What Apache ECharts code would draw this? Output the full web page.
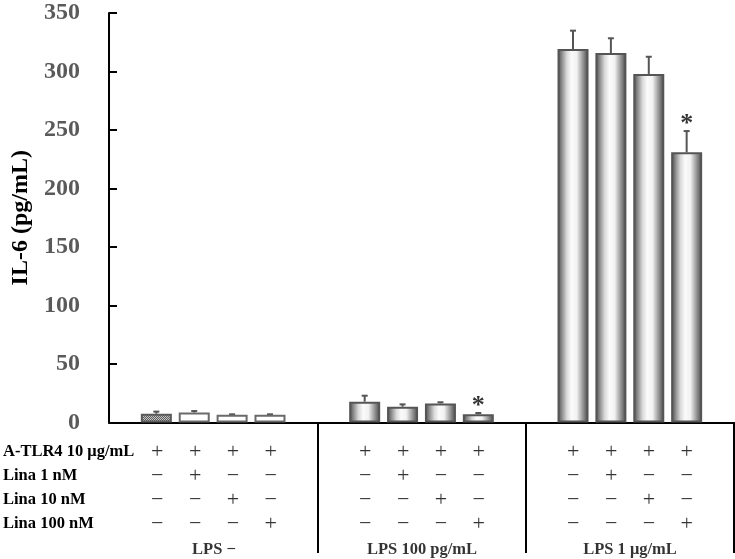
<!DOCTYPE html>
<html><head><meta charset="utf-8">
<script src="https://cdn.jsdelivr.net/npm/echarts@6/dist/echarts.min.js"></script>
<style>html,body{margin:0;padding:0;background:#fff}#c{width:735px;height:559px}</style>
</head><body><div id="c"></div>
<script>
// ---- data ----
const groupLabels = ['LPS \u2212', 'LPS 100 pg/mL', 'LPS 1 \u03bcg/mL'];
const rowLabels = ['A-TLR4 10 \u03bcg/mL', 'Lina 1 nM', 'Lina 10 nM', 'Lina 100 nM'];
const aTLR4   = [1,1,1,1, 1,1,1,1, 1,1,1,1];
const lina1   = [0,1,0,0, 0,1,0,0, 0,1,0,0];
const lina10  = [0,0,1,0, 0,0,1,0, 0,0,1,0];
const lina100 = [0,0,0,1, 0,0,0,1, 0,0,0,1];
const il6Mean = [7.5, 8.5, 6.6, 6.6, 17.8, 13.5, 16.3, 7.0, 319.2, 315.8, 297.9, 230.9];
const il6Err  = [1.8, 1.3, 0.4, 0.4, 5.1, 2.0, 1.0, 1.1, 15.7, 12.6, 14.7, 18.2];
const starred = [0,0,0,0, 0,0,0,1, 0,0,0,1];
const yMin = 0, yMax = 350, yStep = 50;
const yTitle = 'IL-6 (pg/mL)';

// ---- layout helpers (category slots) ----
const slotCount = 33;
const slotOf = k => 2 + 11 * Math.floor(k / 4) + 2 * (k % 4);
const groupSlot = g => 5 + 11 * g;
const slots = Array.from({length: slotCount}, (_, i) => 's' + i);
const serif = "'Liberation Serif','Times New Roman',serif";

// pattern for first bar
const pc = document.createElement('canvas');
pc.width = 2; pc.height = 2;
const px = pc.getContext('2d');
px.fillStyle = '#c4c4c4'; px.fillRect(0,0,2,2);
px.fillStyle = '#5e5e5e'; px.fillRect(0,0,1,1); px.fillRect(1,1,1,1);

const grad = {type:'linear', x:0, y:0, x2:1, y2:0, colorStops:[
  {offset:0, color:'#444'}, {offset:0.1, color:'#787878'}, {offset:0.3, color:'#d9d9d9'},
  {offset:0.45, color:'#fbfbfb'}, {offset:0.62, color:'#f2f2f2'}, {offset:0.85, color:'#888'},
  {offset:1, color:'#444'}]};

const barData = Array(slotCount).fill('-');
il6Mean.forEach((v, k) => {
  let style;
  if (k === 0) style = {color:{image:pc, repeat:'repeat'}, borderColor:'#5a5a5a', borderWidth:2};
  else if (k < 4) style = {color:'#fff', borderColor:'#6a6a6a', borderWidth:2};
  else style = {color:grad, borderColor:'#555', borderWidth:2};
  barData[slotOf(k)] = {value: v, itemStyle: style};
});
const errData = il6Mean.map((v, k) => [slotOf(k), v, v + il6Err[k]]);
const starData = il6Mean.map((v, k) => [slotOf(k), v + il6Err[k]]).filter((_, k) => starred[k]);

const signRows = [aTLR4, lina1, lina10, lina100];
const signData = [];
signRows.forEach((row, r) => row.forEach((on, k) => signData.push({value:[slotOf(k), r], sign: on ? '+' : '\u2212'})));
const groupData = groupLabels.map((t, g) => ({value:[groupSlot(g), 4], text: t}));

const chart = echarts.init(document.getElementById('c'), null, {renderer:'canvas'});
chart.setOption({
  animation: false,
  backgroundColor: '#fff',
  grid: [
    {left:109, top:13, width:625, height:409.5},
    {left:109, top:422, width:625, height:131}
  ],
  xAxis: [
    {type:'category', gridIndex:0, data:slots, boundaryGap:true,
     axisLine:{lineStyle:{color:'#000', width:2}}, axisTick:{show:false}, axisLabel:{show:false}},
    {type:'category', gridIndex:1, data:slots, boundaryGap:true,
     axisLine:{show:false}, axisTick:{show:false}, axisLabel:{show:false},
     splitLine:{show:true, interval:(i) => i === 11 || i === 22, lineStyle:{color:'#000', width:2}}}
  ],
  yAxis: [
    {type:'value', gridIndex:0, min:yMin, max:yMax, interval:yStep,
     name: yTitle, nameLocation:'middle', nameGap:76,
     nameTextStyle:{fontFamily:serif, fontWeight:'bold', fontSize:24, color:'#000'},
     axisLine:{show:true, lineStyle:{color:'#000', width:2}},
     axisTick:{show:true, inside:true, length:8, lineStyle:{color:'#000', width:2}},
     axisLabel:{margin:29, fontFamily:serif, fontWeight:'bold', fontSize:24, color:'#5a5a5a'},
     splitLine:{show:false}},
    {type:'value', gridIndex:1, inverse:true, min:-1.25, max:4.208,
     axisLine:{show:false}, axisTick:{show:false}, splitLine:{show:false},
     axisLabel:{show:true, customValues:[0,1,2,3], formatter:(v) => rowLabels[Math.round(v)] || '',
       align:'left', margin:107, fontFamily:serif, fontWeight:'bold', fontSize:16.5, color:'#000'}}
  ],
  series: [
    {type:'bar', xAxisIndex:0, yAxisIndex:0, data:barData, barWidth:31},
    {type:'custom', xAxisIndex:0, yAxisIndex:0, data:errData, z:1,
     renderItem:(params, api) => {
       const x = api.value(0);
       const p0 = api.coord([x, api.value(1)]);
       const p1 = api.coord([x, api.value(2)]);
       const st = {stroke:'#555', lineWidth:2};
       return {type:'group', children:[
         {type:'line', shape:{x1:p0[0], y1:p0[1], x2:p1[0], y2:p1[1]}, style:st},
         {type:'line', shape:{x1:p1[0]-3, y1:p1[1], x2:p1[0]+3, y2:p1[1]}, style:st}
       ]};
     }},
    {type:'scatter', xAxisIndex:0, yAxisIndex:0, data:starData, symbolSize:0,
     label:{show:true, formatter:'*', position:'top', distance:-6, fontFamily:serif, fontWeight:'bold', fontSize:26, color:'#000'}},
    {type:'scatter', xAxisIndex:1, yAxisIndex:1, data:signData, symbolSize:0,
     label:{show:true, position:'inside', formatter:(p) => p.data.sign, fontFamily:serif, fontSize:22, color:'#000'}},
    {type:'scatter', xAxisIndex:1, yAxisIndex:1, data:groupData, symbolSize:0,
     label:{show:true, position:'inside', offset:[0,2], formatter:(p) => p.data.text, fontFamily:serif, fontWeight:'bold', fontSize:16.5, color:'#000'}}
  ]
});
</script>
</body></html>
